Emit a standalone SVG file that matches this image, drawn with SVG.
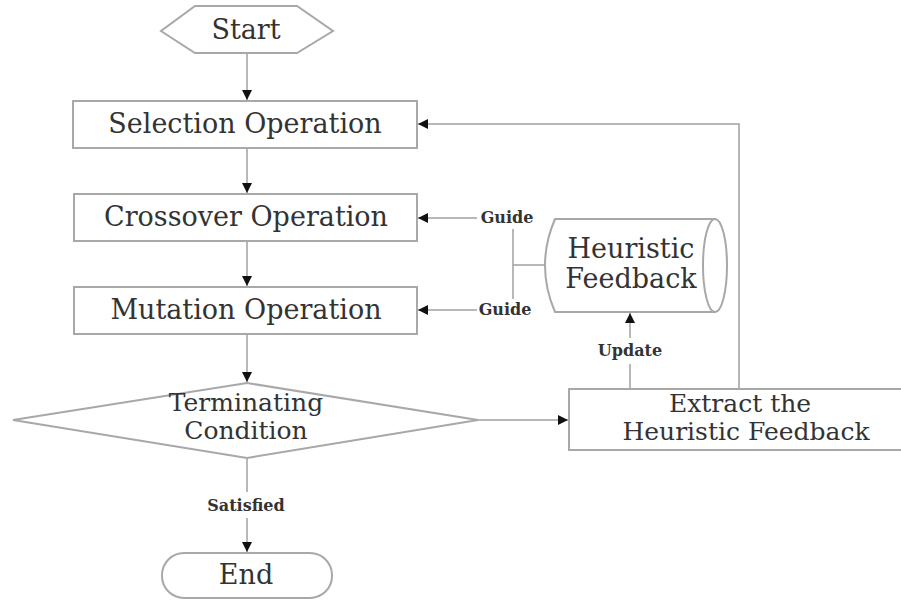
<svg xmlns="http://www.w3.org/2000/svg" width="901" height="600" viewBox="0 0 901 600">
<style>
.shape{fill:#fff;stroke:#a8a8a8;stroke-width:2}
.line{fill:none;stroke:#a0a0a0;stroke-width:1.5}
.t{font-family:"DejaVu Serif","Liberation Serif",serif;font-size:27px;fill:#333;text-anchor:middle}
.t2{font-family:"DejaVu Serif","Liberation Serif",serif;font-size:25px;fill:#333;text-anchor:middle}
.lbl{font-family:"DejaVu Serif","Liberation Serif",serif;font-size:16px;font-weight:bold;fill:#333;text-anchor:middle}
</style>
<defs>
<marker id="ah" viewBox="0 0 10 10" refX="10" refY="5" markerWidth="10" markerHeight="10" markerUnits="userSpaceOnUse" orient="auto">
<path d="M0,0 L10,5 L0,10 Z" fill="#111"/>
</marker>
</defs>
<rect width="901" height="600" fill="#fff"/>
<g id="connectors">
<line class="line" x1="247" y1="53" x2="247" y2="100" marker-end="url(#ah)"/>
<line class="line" x1="247" y1="148" x2="247" y2="193" marker-end="url(#ah)"/>
<line class="line" x1="247" y1="241" x2="247" y2="286" marker-end="url(#ah)"/>
<line class="line" x1="247" y1="334" x2="247" y2="382" marker-end="url(#ah)"/>
<line class="line" x1="247" y1="458" x2="247" y2="492"/>
<line class="line" x1="247" y1="518" x2="247" y2="552" marker-end="url(#ah)"/>
<line class="line" x1="478" y1="420" x2="568" y2="420" marker-end="url(#ah)"/>
<polyline class="line" points="739,389 739,124 418,124" marker-end="url(#ah)"/>
<line class="line" x1="630" y1="389" x2="630" y2="364"/>
<line class="line" x1="630" y1="338" x2="630" y2="313" marker-end="url(#ah)"/>
<line class="line" x1="477" y1="218" x2="418" y2="218" marker-end="url(#ah)"/>
<line class="line" x1="477" y1="310" x2="418" y2="310" marker-end="url(#ah)"/>
<line class="line" x1="513" y1="229" x2="513" y2="299"/>
<line class="line" x1="513" y1="265" x2="546" y2="265"/>
<text class="lbl" x="507" y="223">Guide</text>
<text class="lbl" x="505" y="315">Guide</text>
<text class="lbl" x="630" y="356">Update</text>
<text class="lbl" x="246" y="511">Satisfied</text>
</g>
<g id="start">
<polygon class="shape" points="195,6 297,6 333,31 297,53 195,53 161,31"/>
<text class="t" x="246" y="39">Start</text>
</g>
<g id="selection">
<rect class="shape" x="73" y="101" width="344" height="47"/>
<text class="t" x="245" y="133">Selection Operation</text>
</g>
<g id="crossover">
<rect class="shape" x="74" y="194" width="343" height="47"/>
<text class="t" x="246" y="226">Crossover Operation</text>
</g>
<g id="mutation">
<rect class="shape" x="74" y="287" width="343" height="47"/>
<text class="t" x="246" y="319">Mutation Operation</text>
</g>
<g id="terminating">
<polygon class="shape" points="247,383 478,420 247,458 13,420"/>
<text class="t2" x="246" y="411">Terminating</text>
<text class="t2" x="246" y="439">Condition</text>
</g>
<g id="end">
<rect class="shape" x="162" y="553" width="170" height="45" rx="22" ry="22"/>
<text class="t" x="246" y="584">End</text>
</g>
<g id="extract">
<rect class="shape" x="569" y="389" width="340" height="61"/>
<text class="t2" x="740" y="412">Extract the</text>
<text class="t2" x="746" y="440">Heuristic Feedback</text>
</g>
<g id="heuristic">
<path class="shape" d="M555,219 L715,219 L715,312 L555,312 Q535,265.5 555,219 Z"/>
<ellipse class="shape" cx="715" cy="265.5" rx="12" ry="46.5"/>
<text class="t" x="631" y="258">Heuristic</text>
<text class="t" x="631" y="288">Feedback</text>
</g>
</svg>
